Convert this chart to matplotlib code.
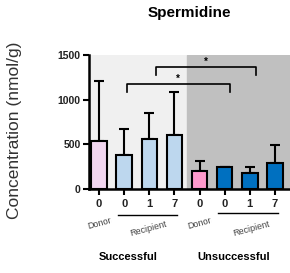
import matplotlib.pyplot as plt
import numpy as np

plt.rcParams['font.family'] = ['Liberation Sans', 'DejaVu Sans']

days = ['0', '0', '1', '7', '0', '0', '1', '7']
means = [537, 378, 560, 602, 201, 242, 178, 287]
errs = [675, 292, 292, 478, 109, 0, 64, 202]
colors = ['#f2d6f0', '#bdd7ee', '#bdd7ee', '#bdd7ee', '#ff99cc', '#0070c0', '#0070c0', '#0070c0']

fig = plt.figure(figsize=(2.9, 2.73), dpi=100)
ax = fig.add_axes([0.307, 0.308, 0.693, 0.491])

x = np.arange(len(means))
ax.axvspan(-0.4, 3.5, color='#f0f0f0', zorder=0)
ax.axvspan(3.5, 7.6, color='#c0c0c0', zorder=0)

ax.bar(x, means, width=0.62, color=colors, edgecolor='black', linewidth=1.5, zorder=2)
ax.errorbar(x, means, yerr=[np.zeros(len(errs)), errs], fmt='none', ecolor='black',
            elinewidth=1.5, capsize=3.5, capthick=1.5, zorder=1)

ax.set_xlim(-0.4, 7.6)
ax.set_ylim(0, 1500)
ax.set_yticks([0, 500, 1000, 1500])
ax.set_xticks(x)
ax.set_xticklabels(days, fontsize=8, fontweight='bold', color='#222222')
ax.tick_params(axis='y', labelsize=7.5, width=1.5, length=4, colors='black', labelcolor='#222222', pad=2)
ax.tick_params(axis='x', width=1.5, length=4, pad=3)
for lbl in ax.get_yticklabels():
    lbl.set_fontweight('bold')
for s in ['top', 'right']:
    ax.spines[s].set_visible(False)
for s in ['left', 'bottom']:
    ax.spines[s].set_linewidth(1.8)

# significance brackets
def bracket(x1, x2, y, h=90):
    ax.plot([x1, x1, x2, x2], [y - h, y, y, y - h], color='black', lw=1.2, clip_on=False)
    ax.text((x1 + x2) / 2, y + 5, '*', ha='center', va='bottom', fontsize=7, fontweight='bold')

bracket(1.1, 5.2, 1173)
bracket(2.26, 6.24, 1364)

tr = ax.get_xaxis_transform()
sub = dict(transform=tr, ha='center', va='center', rotation=15, fontsize=6.5, color='#444444')
ax.text(0.0, -0.26, 'Donor', **sub)
ax.text(1.95, -0.30, 'Recipient', **sub)
ax.text(4.0, -0.26, 'Donor', **sub)
ax.text(6.05, -0.30, 'Recipient', **sub)
ax.plot([0.76, 3.1], [-0.195, -0.195], transform=tr, color='black', lw=1, clip_on=False)
ax.plot([4.74, 7.13], [-0.18, -0.18], transform=tr, color='black', lw=1, clip_on=False)
ax.text(1.15, -0.51, 'Successful', transform=tr, ha='center', va='center',
        fontsize=8, fontweight='bold')
ax.text(5.34, -0.51, 'Unsuccessful', transform=tr, ha='center', va='center',
        fontsize=8, fontweight='bold')

ax.set_ylabel('Concentration (nmol/g)', fontsize=12.5, color='#333333')
ax.yaxis.set_label_coords(-0.335, 0.44)
ax.set_title('Spermidine', fontsize=11, fontweight='bold', pad=27)

fig.savefig('out.png', dpi=100)
